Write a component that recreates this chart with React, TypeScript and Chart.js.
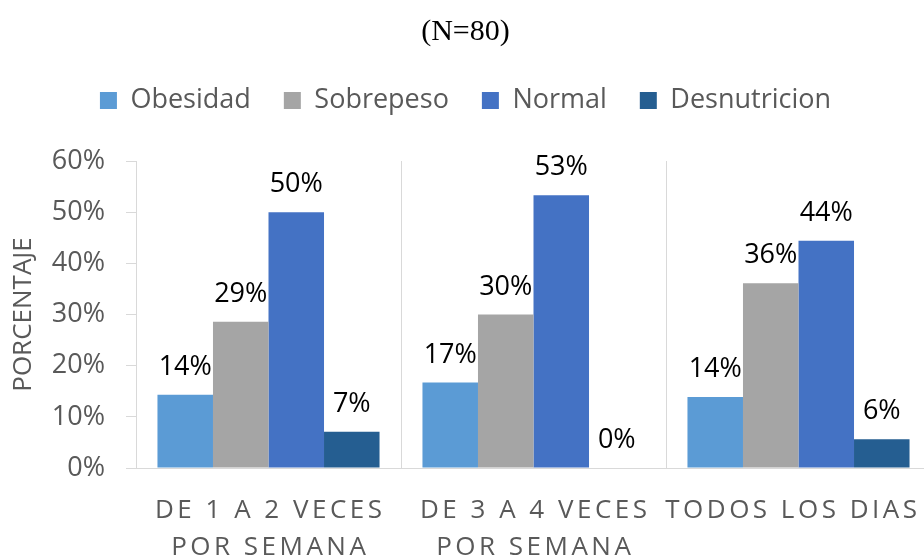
import React, { useEffect, useRef } from 'react';
import { Chart, registerables } from 'chart.js';

Chart.register(...registerables);

const categories: string[][] = [
  ['DE 1 A 2 VECES', 'POR SEMANA'],
  ['DE 3 A 4 VECES', 'POR SEMANA'],
  ['TODOS LOS DIAS'],
];
const seriesNames = ['Obesidad', 'Sobrepeso', 'Normal', 'Desnutricion'];
const obesidad = [14.3, 16.7, 13.9];
const sobrepeso = [28.6, 30.0, 36.1];
const normal = [50.0, 53.3, 44.4];
const desnutricion = [7.1, 0, 5.6];
const seriesColors = ['#5B9BD5', '#A5A5A5', '#4472C4', '#255E91'];
const yMin = 0;
const yMax = 60;
const yStep = 10;
const titleText = '(N=80)';
const yTitle = 'PORCENTAJE';

const FONT = "'Open Sans', 'Noto Sans', sans-serif";

const barLabels = {
  id: 'barLabels',
  afterDatasetsDraw(chart: any) {
    const ctx = chart.ctx;
    ctx.save();
    ctx.font = `27px ${FONT}`;
    ctx.fillStyle = '#000000';
    ctx.textAlign = 'center';
    ctx.textBaseline = 'alphabetic';
    chart.data.datasets.forEach((ds: any, di: number) => {
      const meta = chart.getDatasetMeta(di);
      meta.data.forEach((el: any, i: number) => {
        const v = ds.data[i];
        ctx.fillText(Math.round(v) + '%', el.x, el.y - 20);
      });
    });
    ctx.restore();
  },
};

const xLabels = {
  id: 'xLabels',
  afterDraw(chart: any) {
    const sc = chart.scales.x;
    const ctx = chart.ctx;
    ctx.save();
    ctx.font = `26px ${FONT}`;
    ctx.fillStyle = '#595959';
    ctx.textAlign = 'left';
    ctx.textBaseline = 'middle';
    const spacing = 3.5;
    (ctx as any).letterSpacing = spacing + 'px';
    const limit = chart.chartArea.right - 14;
    categories.forEach((lines, i) => {
      const cx = sc.getPixelForValue(i);
      const widths = lines.map((l) => ctx.measureText(l).width - spacing);
      const maxW = Math.max(...widths);
      let shift = 0;
      if (cx + maxW / 2 > limit) shift = limit - (cx + maxW / 2);
      lines.forEach((l, j) => {
        ctx.fillText(l, cx + shift - widths[j] / 2, sc.top + 43 + j * 37);
      });
    });
    ctx.restore();
  },
};

export default function App() {
  const ref = useRef<HTMLCanvasElement | null>(null);

  useEffect(() => {
    if (!ref.current) return;
    const series = [obesidad, sobrepeso, normal, desnutricion];
    const chart = new Chart(ref.current, {
      type: 'bar',
      data: {
        labels: categories.map((c) => c.join(' ')),
        datasets: series.map((d, i) => ({
          label: seriesNames[i],
          data: d,
          backgroundColor: seriesColors[i],
          borderWidth: 0,
          categoryPercentage: 0.838,
          barPercentage: 1,
        })),
      },
      options: {
        responsive: false,
        animation: false,
        devicePixelRatio: 1,
        layout: { padding: { left: 0, right: 9, top: 0, bottom: 0 } },
        plugins: {
          title: {
            display: true,
            text: titleText,
            color: '#000000',
            font: { family: "'Liberation Serif', 'Times New Roman', serif", size: 30, weight: 'normal', lineHeight: 1.2 },
            padding: { top: 14, bottom: 4 },
          },
          legend: {
            display: true,
            position: 'top',
            labels: {
              color: '#595959',
              font: { family: FONT, size: 27 },
              boxWidth: 17,
              boxHeight: 17,
              padding: 33,
            },
          },
          tooltip: { enabled: false },
        },
        scales: {
          x: {
            grid: { color: '#d9d9d9', drawTicks: false, offset: true },
            border: { color: '#d9d9d9' },
            ticks: { display: false },
            afterFit: (s: any) => {
              s.height = 91;
            },
          },
          x2: {
            type: 'category',
            position: 'top',
            grid: { display: false },
            border: { display: false },
            ticks: { display: false },
            afterFit: (s: any) => {
              s.height = 37;
            },
          },
          y: {
            min: yMin,
            max: yMax,
            ticks: {
              stepSize: yStep,
              callback: (v: any) => v + '%',
              color: '#595959',
              font: { family: FONT, size: 27 },
              padding: 21,
            },
            grid: { drawOnChartArea: false, drawTicks: true, tickLength: 10, color: '#d9d9d9' },
            border: { color: '#d9d9d9' },
            title: {
              display: true,
              text: yTitle,
              color: '#595959',
              font: { family: FONT, size: 26 },
              padding: { top: 8, bottom: 0 },
            },
            afterFit: (s: any) => {
              s.width = 136;
            },
          },
        } as any,
      },
      plugins: [barLabels, xLabels],
    } as any);
    return () => chart.destroy();
  }, []);

  return (
    <div
      style={{
        position: 'fixed',
        left: 0,
        top: 0,
        width: 924,
        height: 559,
        overflow: 'hidden',
        background: '#ffffff',
      }}
    >
      <canvas ref={ref} width={940} height={559} style={{ display: 'block', width: 940, height: 559 }} />
    </div>
  );
}
